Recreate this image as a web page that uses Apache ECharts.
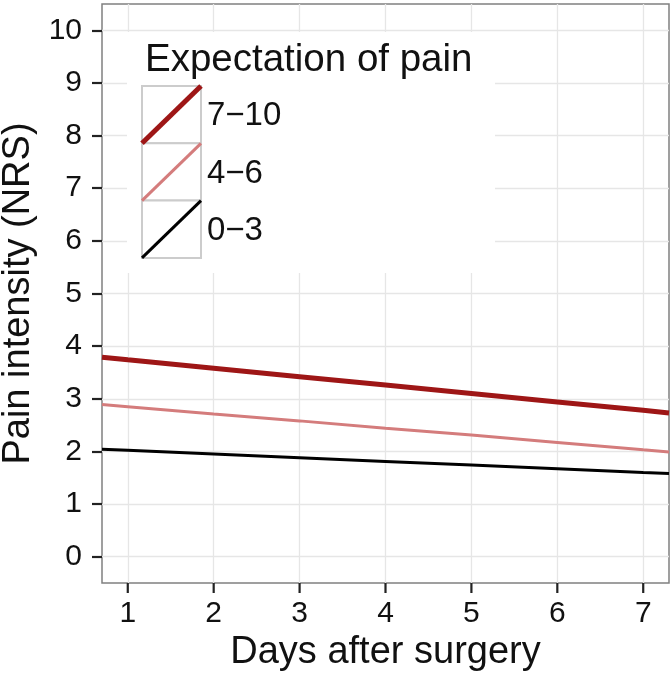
<!DOCTYPE html>
<html>
<head>
<meta charset="utf-8">
<script src="https://cdn.jsdelivr.net/npm/echarts@6/dist/echarts.min.js"></script>
<style>html,body{margin:0;padding:0;background:#fff;}#c{width:671px;height:679px;}</style>
</head>
<body>
<div id="c"></div>
<script>
// Data
var days = [0.7, 1, 2, 3, 4, 5, 6, 7, 7.3];
var pain710 = [3.79, 3.74, 3.58, 3.42, 3.26, 3.10, 2.94, 2.78, 2.73];
var pain46  = [2.89, 2.85, 2.71, 2.58, 2.44, 2.31, 2.17, 2.03, 1.99];
var pain03  = [2.04, 2.02, 1.95, 1.88, 1.81, 1.74, 1.67, 1.60, 1.58];
var groupNames = ['7\u221210', '4\u22126', '0\u22123'];
var xTicks = [1, 2, 3, 4, 5, 6, 7];
var yTicks = [0, 1, 2, 3, 4, 5, 6, 7, 8, 9, 10];
var legendTitle = 'Expectation of pain';
var xTitle = 'Days after surgery';
var yTitle = 'Pain intensity (NRS)';

var colors = ['#9e1616', '#d47c7c', '#000000'];
var widths = [5, 3, 3];
var groupValues = [pain710, pain46, pain03];
var FONT = '"Liberation Sans", Arial, Helvetica, sans-serif';
var Y_MIN = -0.5, Y_MAX = 10.5, X_MIN = 0.7, X_MAX = 7.3;

function pairs(vals) { return days.map(function (d, i) { return [d, vals[i]]; }); }

var series = groupNames.map(function (n, i) {
  return {
    name: n, type: 'line', data: pairs(groupValues[i]),
    showSymbol: false, symbol: 'none', smooth: false, silent: true,
    lineStyle: { color: colors[i], width: widths[i] }, z: 3 + (2 - i)
  };
});

// Legend drawn as graphics (layout only), built from the names/colors arrays
var keyX = 142, keyY = 86, keyW = 59, keyH = 57.3;
var graphics = [
  { type: 'rect', shape: { x: 127, y: 32, width: 368, height: 241 }, style: { fill: '#fff' }, z: 10 },
  { type: 'text', x: 145, y: 60, style: { text: legendTitle, font: '38.5px ' + FONT, fill: '#111', verticalAlign: 'middle', textVerticalAlign: 'middle' }, z: 11 }
];
groupNames.forEach(function (n, i) {
  var y0 = keyY + i * keyH;
  graphics.push({ type: 'rect', shape: { x: keyX, y: y0, width: keyW, height: keyH }, style: { fill: '#fff', stroke: '#cccccc', lineWidth: 2 }, z: 11 });
  graphics.push({ type: 'line', shape: { x1: keyX, y1: y0 + keyH, x2: keyX + keyW, y2: y0 }, style: { stroke: colors[i], lineWidth: widths[i] }, z: 12 });
  graphics.push({ type: 'text', x: 207, y: y0 + keyH / 2 + 1.5, style: { text: n, font: '33px ' + FONT, fill: '#111', verticalAlign: 'middle', textVerticalAlign: 'middle' }, z: 12 });
});

var tickStyle = { color: '#222', width: 2.2 };
var chart = echarts.init(document.getElementById('c'), null, { renderer: 'canvas' });
chart.setOption({
  animation: false,
  backgroundColor: '#fff',
  grid: { left: 102, top: 4, right: 2, bottom: 96, show: true, borderColor: '#808080', borderWidth: 1.5, backgroundColor: 'transparent', containLabel: false, outerBoundsMode: 'none' },
  xAxis: {
    type: 'value', min: X_MIN, max: X_MAX, position: 'bottom',
    name: xTitle, nameLocation: 'middle', nameGap: 51,
    nameTextStyle: { fontSize: 38, fontFamily: FONT, color: '#111' },
    axisLine: { show: false, onZero: false },
    axisTick: { show: false, customValues: xTicks },
    axisLabel: { fontSize: 30, fontFamily: FONT, color: '#111', margin: 16, customValues: xTicks },
    splitLine: { show: true, lineStyle: { color: '#e6e6e6', width: 1.3 } }
  },
  yAxis: {
    type: 'value', min: Y_MIN, max: Y_MAX, position: 'left',
    name: yTitle, nameLocation: 'middle', nameGap: 62,
    nameTextStyle: { fontSize: 38, fontFamily: FONT, color: '#111' },
    axisLine: { show: false, onZero: false },
    axisTick: { show: true, inside: false, length: 10, lineStyle: tickStyle, customValues: yTicks },
    axisLabel: { fontSize: 30, fontFamily: FONT, color: '#111', margin: 20, customValues: yTicks },
    splitLine: { show: true, lineStyle: { color: '#e6e6e6', width: 1.3 } }
  },
  series: series,
  graphic: graphics
});

// x-axis tick marks: positions converted through the chart's own x scale
var tickGraphics = xTicks.map(function (v, i) {
  var p = chart.convertToPixel({ gridIndex: 0 }, [v, Y_MIN]);
  return { id: 'xtick' + i, type: 'line', shape: { x1: p[0], y1: p[1], x2: p[0], y2: p[1] + 10 }, style: { stroke: '#222', lineWidth: 2.2 }, z: 20 };
});
chart.setOption({ graphic: graphics.concat(tickGraphics) });
</script>
</body>
</html>
